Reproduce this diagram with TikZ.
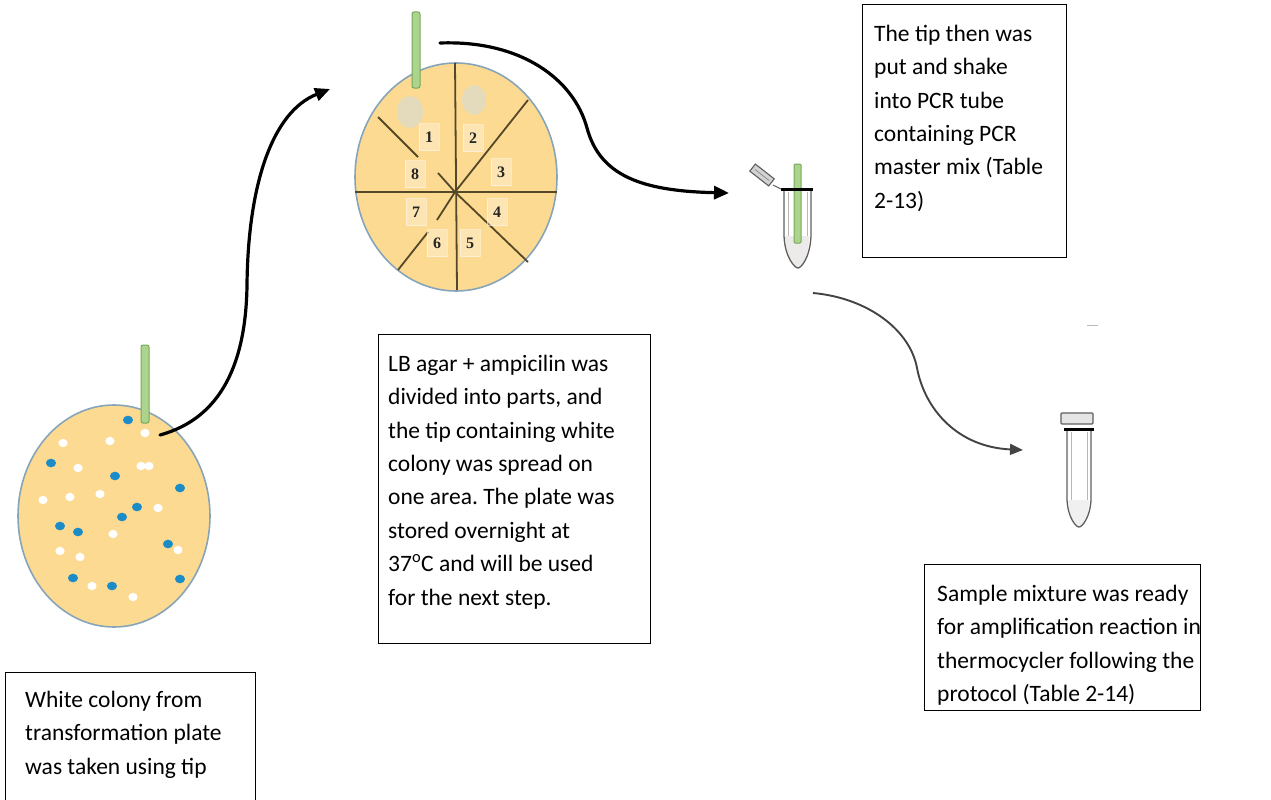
\documentclass[tikz,border=0pt]{standalone}
\usepackage{fontspec}
\setmainfont{Carlito}
\newfontfamily\numfont{Liberation Serif}
\usetikzlibrary{arrows.meta,calc,shapes.geometric}
\frenchspacing

\definecolor{agar}{RGB}{252,218,145}
\definecolor{agaredge}{RGB}{135,165,185}
\definecolor{colonyblue}{RGB}{28,140,200}
\definecolor{tipgreen}{RGB}{172,212,140}
\definecolor{tipedge}{RGB}{118,168,90}
\definecolor{divline}{RGB}{85,72,40}
\definecolor{streak}{RGB}{220,220,204}
\definecolor{tubegray}{RGB}{95,95,95}

\tikzset{
  textbox/.style={draw=black, line width=1.3pt, inner sep=0pt, anchor=north west},
  boxtext/.style={anchor=north west, inner sep=0pt, align=left,
                  font=\fontsize{23.5}{33.4}\selectfont},
  plate/.style={fill=agar, draw=agaredge, line width=1.6pt},
  tipstyle/.style={fill=tipgreen, draw=tipedge, line width=1pt, rounded corners=2pt},
  bluecol/.style={fill=colonyblue},
  whitecol/.style={fill=white},
  divider/.style={draw=divline, line width=1.8pt},
  numtag/.style={fill=white, fill opacity=0.3, draw=white, draw opacity=0.45, line width=0.8pt,
                 minimum width=20pt, minimum height=27pt, inner sep=0pt,
                 text opacity=1, font=\numfont\bfseries\fontsize{16}{16}\selectfont, text=black!85},
  bigarrow/.style={line width=3.2pt, line cap=round, -{Triangle[length=15pt,width=13pt]}},
  thinarrow/.style={draw=tubegray!70!black, line width=1.9pt, -{Triangle[length=13pt,width=11pt]}},
  tubeline/.style={draw=tubegray, line width=1.3pt},
  rim/.style={draw=black, line width=3pt},
}

\begin{document}
\begin{tikzpicture}[x=1pt,y=-1pt]
\useasboundingbox (0,0) rectangle (1271,800);

% ---------- transformation plate ----------
\node[plate, ellipse, minimum width=192pt, minimum height=222pt, inner sep=0pt] (plateA) at (114,516) {};
\foreach \p in {(128,420),(51,463),(115,476),(180,488),(137,507),(122,517),(60,526),(78,532),(168,544),(73,578),(112,586),(180,579)}
  \fill[bluecol] \p ellipse (5pt and 4.3pt);
\foreach \p in {(145,433),(63,443),(110,441),(78,468),(141,466),(149,466),(43,500),(70,497),(100,494),(158,508),(113,534),(60,551),(80,557),(178,550),(92,586),(133,597)}
  \fill[whitecol] \p ellipse (4.6pt and 4.2pt);
\draw[tipstyle] (141,345) rectangle (149,423);
\coordinate (a1s) at (160,435);
\coordinate (a1e) at (330,89);

% ---------- divided LB agar plate ----------
\node[plate, ellipse, minimum width=202pt, minimum height=228pt, inner sep=0pt] (plateB) at (456,177) {};
\fill[streak, opacity=0.75] (410,112) ellipse (13pt and 16pt);
\fill[streak, opacity=0.75] (474,100) ellipse (12pt and 15pt);
\coordinate (mid) at (455,192);
\draw[divider] (455,63) -- (457,290);
\draw[divider] (355,192) -- (557,192);
\draw[divider] (378,117) -- (418,157);
\draw[divider] (438,173) -- (mid);
\draw[divider] (528,100) -- (mid);
\draw[divider] (mid) -- (437,220);
\draw[divider] (428,232) -- (398,270);
\draw[divider] (mid) -- (528,262);
\node[numtag] (n1) at (429,137) {1};
\node[numtag] (n2) at (473,138) {2};
\node[numtag] (n3) at (501,172) {3};
\node[numtag] (n8) at (415,174) {8};
\node[numtag] (n7) at (416,212) {7};
\node[numtag] (n4) at (497,212) {4};
\node[numtag] (n6) at (437,243) {6};
\node[numtag] (n5) at (470,243) {5};
\draw[tipstyle] (412,12) rectangle (420,88);
\coordinate (a2s) at (440,43);
\coordinate (a2e) at (729,193);

% ---------- PCR tube with tip ----------
\fill[red!8!gray!15] (785,236) .. controls (786,262) and (796,268) .. (798,268) .. controls (800,268) and (809,262) .. (809,236) -- cycle;
\draw[tubeline] (784,191) -- (784,236) .. controls (785,258) and (795,268) .. (798,268) .. controls (801,268) and (810,258) .. (811,236) -- (811,191);
\draw[draw=tubegray!45, line width=0.8pt] (788,192) -- (788,236);
\draw[draw=tubegray!45, line width=0.8pt] (807,192) -- (807,236);
\draw[tipstyle, rounded corners=1pt] (794,164) rectangle (801,243);
\draw[rim] (781,189) -- (813,189);
\draw[tubegray, line width=1pt] (773,185) -- (781,189);
\begin{scope}[shift={(762,175)}, rotate=-38]
  \draw[fill=gray!35, draw=tubegray, line width=1.1pt] (-12,-4.5) rectangle (12,4.5);
  \draw[draw=tubegray!80, line width=0.6pt] (-9,0) -- (9,0);
\end{scope}
\node[inner sep=0pt, minimum size=1pt] (tubeA) at (798,230) {};
\coordinate (a3s) at (813,293);
\coordinate (a3e) at (1023,450);

% ---------- closed PCR tube ----------
\draw[draw=gray!55, line width=1pt] (1087,325) -- (1098,325);
\fill[gray!12] (1068,500) .. controls (1069,520) and (1077,527) .. (1079,527) .. controls (1081,527) and (1089,520) .. (1089,500) -- cycle;
\draw[tubeline] (1067,431) -- (1067,500) .. controls (1068,518) and (1076,527) .. (1079,527) .. controls (1082,527) and (1090,518) .. (1091,500) -- (1091,431);
\draw[draw=tubegray!45, line width=0.8pt] (1071,432) -- (1071,500);
\draw[draw=tubegray!45, line width=0.8pt] (1087,432) -- (1087,500);
\draw[fill=gray!20, draw=tubegray, line width=1.2pt, rounded corners=1pt] (1061,413) rectangle (1093,424);
\draw[rim] (1064,429) -- (1094,429);
\node[inner sep=0pt, minimum size=1pt] (tubeB) at (1079,470) {};

% ---------- connectors ----------
\draw[bigarrow] (a1s) .. controls (222,418) and (246,362) .. (247,285)
                      .. controls (248,185) and (272,112) .. (a1e);
\draw[bigarrow] (a2s) .. controls (522,40) and (574,80) .. (587,128)
                      .. controls (600,176) and (642,191) .. (a2e);
\draw[thinarrow] (a3s) .. controls (868,298) and (910,330) .. (917,368)
                       .. controls (925,410) and (958,447) .. (a3e);

% ---------- captions ----------
\node[textbox, minimum width=250pt, minimum height=140pt] (capA) at (5,672) {};
\node[boxtext] (capAt) at ([xshift=20pt, yshift=-18pt]capA.north west)
  {\rule{0pt}{17pt}White colony from\\transformation plate\\was taken using tip};

\node[textbox, minimum width=272pt, minimum height=309pt] (capB) at (378,334) {};
\node[boxtext] (capBt) at ([xshift=10pt, yshift=-20pt]capB.north west)
  {\rule{0pt}{17pt}LB agar + ampicilin was\\divided into parts, and\\the tip containing white\\colony was spread on\\one area. The plate was\\stored overnight at\\37\textsuperscript{o}C and will be used\\for the next step.};

\node[textbox, minimum width=204pt, minimum height=253pt] (capC) at (862,4) {};
\node[boxtext] (capCt) at ([xshift=12pt, yshift=-20pt]capC.north west)
  {\rule{0pt}{17pt}The tip then was\\put and shake\\into PCR tube\\containing PCR\\master mix (Table\\2-13)};

\node[textbox, minimum width=276pt, minimum height=146pt] (capD) at (924,564) {};
\node[boxtext] (capDt) at ([xshift=13pt, yshift=-20pt]capD.north west)
  {\rule{0pt}{17pt}Sample mixture was ready\\for amplification reaction in\\thermocycler following the\\protocol (Table 2-14)};
\end{tikzpicture}
\end{document}
